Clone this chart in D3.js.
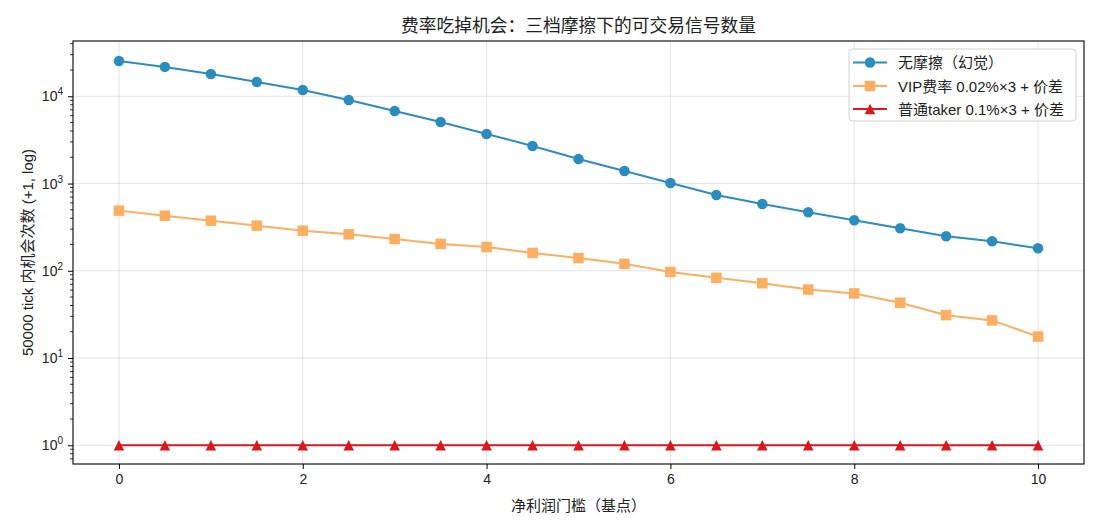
<!DOCTYPE html>
<html><head><meta charset="utf-8">
<script src="https://cdn.jsdelivr.net/npm/d3@7"></script>
<style>
body{margin:0;background:#fff;}
text{font-family:"Liberation Sans","Noto Sans CJK SC",sans-serif;fill:#222;}
</style></head>
<body><svg id="c" width="1100" height="528"></svg>
<script>
const thresholds = [0,0.5,1,1.5,2,2.5,3,3.5,4,4.5,5,5.5,6,6.5,7,7.5,8,8.5,9,9.5,10];
const noFriction = [25400,21700,18000,14600,11800,9070,6790,5070,3700,2690,1910,1390,1015,738,582,467,378,306,248,217,180];
const vipFee = [488,427,374,328,287,261,230,202,186,159,139,119,96,82,71,60,54,42,30,26,16.6];
const takerFee = [0,0,0,0,0,0,0,0,0,0,0,0,0,0,0,0,0,0,0,0,0];
const seriesNames = ["无摩擦（幻觉）","VIP费率 0.02%×3 + 价差","普通taker 0.1%×3 + 价差"];
const xTicks = [0,2,4,6,8,10];
const yTicks = [1,10,100,1000,10000];
const title = "费率吃掉机会：三档摩擦下的可交易信号数量";
const xLabel = "净利润门槛（基点）";
const yLabel = "50000 tick 内机会次数 (+1, log)";

const colors = ["#2b8cbe","#fdae61","#d7191c"];
const MS = 10.5;
const markerPath = [
  d3.symbol().type(d3.symbolCircle).size(Math.PI*MS*MS/4)(),
  `M${-MS/2},${-MS/2}h${MS}v${MS}h${-MS}Z`,
  `M0,${-MS/2}L${MS/2},${MS/2}L${-MS/2},${MS/2}Z`
];

const svg = d3.select("#c");
const L=73, R=1084, T=41, B=464;
const x = d3.scaleLinear().domain([-0.5,10.5]).range([L,R]);
const y = d3.scaleLog().domain([0.61,43000]).range([B,T]);

// grid
const g = svg.append("g");
xTicks.forEach(t=>g.append("line").attr("x1",x(t)).attr("x2",x(t)).attr("y1",T).attr("y2",B).attr("stroke","#b0b0b0").attr("stroke-opacity",0.35).attr("stroke-width",1));
yTicks.forEach(t=>g.append("line").attr("x1",L).attr("x2",R).attr("y1",y(t)).attr("y2",y(t)).attr("stroke","#b0b0b0").attr("stroke-opacity",0.35).attr("stroke-width",1));

// x axis
const xa = svg.append("g").attr("transform",`translate(0,${B})`)
  .call(d3.axisBottom(x).tickValues(xTicks).tickFormat(d3.format("d")).tickSize(5).tickPadding(5));
xa.select(".domain").remove();
xa.selectAll("line").attr("stroke","#000").attr("stroke-width",1);
xa.selectAll("text").attr("font-size",14).attr("fill","#222").style("font-family","Liberation Sans");

// y axis major
const ya = svg.append("g").attr("transform",`translate(${L},0)`)
  .call(d3.axisLeft(y).tickValues(yTicks).tickFormat("").tickSize(5));
ya.select(".domain").remove();
ya.selectAll("line").attr("stroke","#000").attr("stroke-width",1);
yTicks.forEach(t=>{
  const e = Math.round(Math.log10(t));
  const tx = svg.append("text").attr("x",L-10).attr("y",y(t)+5).attr("text-anchor","end").attr("font-size",14);
  tx.append("tspan").text("10");
  tx.append("tspan").attr("dy",-6).attr("font-size",10).text(String(e));
});
// minor
const minor=[];
for(let d=-1; d<=4; d++) for(let m=2;m<=9;m++){const v=m*Math.pow(10,d); if(v>=0.61&&v<=43000) minor.push(v);}
minor.forEach(v=>svg.append("line").attr("x1",L-3).attr("x2",L).attr("y1",y(v)).attr("y2",y(v)).attr("stroke","#000").attr("stroke-width",0.8));

// series
const all=[noFriction,vipFee,takerFee];
all.forEach((s,i)=>{
  const pts = thresholds.map((t,j)=>[t,s[j]+1]);
  svg.append("path").datum(pts).attr("fill","none").attr("stroke",colors[i]).attr("stroke-width",2)
    .attr("d",d3.line().x(d=>x(d[0])).y(d=>y(d[1])));
  svg.selectAll(null).data(pts).enter().append("path")
    .attr("d",markerPath[i])
    .attr("transform",d=>`translate(${x(d[0])},${y(d[1])})`)
    .attr("fill",colors[i]);
});

// frame
svg.append("rect").attr("x",L).attr("y",T).attr("width",R-L).attr("height",B-T).attr("fill","none").attr("stroke","#000").attr("stroke-width",1.1);

// legend
const lg = svg.append("g");
lg.append("rect").attr("x",849).attr("y",49).attr("width",227).attr("height",72).attr("rx",3.5)
  .attr("fill","#fff").attr("fill-opacity",0.85).attr("stroke","#d0d0d0").attr("stroke-width",1);
const ly=[62.5,86,109];
seriesNames.forEach((n,i)=>{
  lg.append("line").attr("x1",853).attr("x2",887).attr("y1",ly[i]).attr("y2",ly[i]).attr("stroke",colors[i]).attr("stroke-width",2);
  lg.append("path").attr("d",markerPath[i]).attr("transform",`translate(870,${ly[i]})`).attr("fill",colors[i]);
  lg.append("text").attr("x",898).attr("y",ly[i]+5.5).attr("font-size",15).text(n);
});

// titles
svg.append("text").attr("x",(L+R)/2).attr("y",31.5).attr("text-anchor","middle").attr("font-size",17.75).text(title);
svg.append("text").attr("x",(L+R)/2).attr("y",511).attr("text-anchor","middle").attr("font-size",15).text(xLabel);
svg.append("text").attr("transform",`translate(33,${(T+B)/2}) rotate(-90)`).attr("text-anchor","middle").attr("font-size",15).text(yLabel);
</script></body></html>
